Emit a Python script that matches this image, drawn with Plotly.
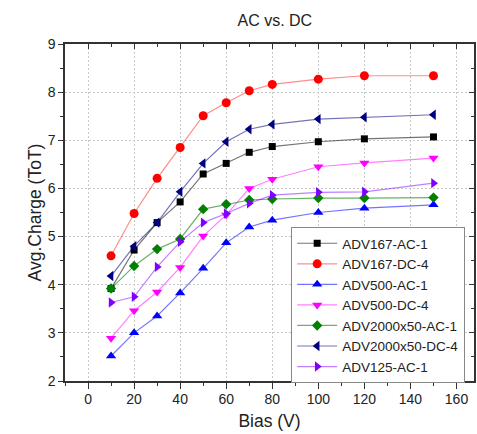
import plotly.graph_objects as go

bias = [10, 20, 30, 40, 50, 60, 70, 80, 100, 120, 150]

names = ["ADV167-AC-1", "ADV167-DC-4", "ADV500-AC-1", "ADV500-DC-4",
         "ADV2000x50-AC-1", "ADV2000x50-DC-4", "ADV125-AC-1"]

adv167_ac1 = [3.92, 4.72, 5.29, 5.72, 6.30, 6.52, 6.75, 6.87, 6.97, 7.03, 7.07]
adv167_dc4 = [4.60, 5.48, 6.21, 6.85, 7.51, 7.78, 8.03, 8.16, 8.27, 8.34, 8.34]
adv500_ac1 = [2.52, 3.00, 3.35, 3.83, 4.34, 4.87, 5.20, 5.34, 5.50, 5.59, 5.66]
adv500_dc4 = [2.89, 3.46, 3.85, 4.36, 5.01, 5.45, 6.00, 6.19, 6.45, 6.53, 6.63]
adv2000_ac1 = [3.92, 4.39, 4.74, 4.95, 5.57, 5.67, 5.76, 5.78, 5.80, 5.80, 5.81]
adv2000_dc4 = [4.18, 4.80, 5.29, 5.93, 6.52, 6.97, 7.23, 7.33, 7.44, 7.48, 7.53]
adv125_ac1 = [3.63, 3.75, 4.37, 4.89, 5.29, 5.48, 5.69, 5.86, 5.92, 5.93, 6.11]

series = [adv167_ac1, adv167_dc4, adv500_ac1, adv500_dc4,
          adv2000_ac1, adv2000_dc4, adv125_ac1]

colors = ["#000000", "#ff0000", "#0000ff", "#ff00ff", "#008000", "#000080", "#8000ff"]
line_colors = ["rgba(0,0,0,0.55)", "rgba(255,0,0,0.45)", "rgba(0,0,255,0.55)",
               "rgba(255,0,255,0.5)", "rgba(0,128,0,0.6)", "rgba(0,0,128,0.55)",
               "rgba(128,0,255,0.5)"]
symbols = ["square", "circle", "triangle-up", "triangle-down", "diamond",
           "triangle-left", "triangle-right"]
sizes = [7, 9, 9, 9, 8, 9, 9]

FONT = "Arial, Liberation Sans, sans-serif"
TXT = "#222222"

fig = go.Figure()
for n, ys, c, lc, s, sz in zip(names, series, colors, line_colors, symbols, sizes):
    fig.add_trace(go.Scatter(
        x=bias, y=ys, name=n, mode="lines+markers",
        line=dict(color=lc, width=1.2),
        marker=dict(symbol=s, size=sz, color=c, line=dict(width=0)),
    ))

axis_col = "#333333"
grid_col = "#c8c8c8"
XR = [-10, 167.6]
YR = [2, 9]

fig.update_layout(
    width=477, height=434, autosize=False,
    margin=dict(l=65, r=1, t=44, b=53),
    paper_bgcolor="white", plot_bgcolor="white",
    font=dict(family=FONT, color=TXT),
    title=dict(text="AC vs. DC", x=0.513, xref="paper", xanchor="center",
               y=0.954, yref="container", yanchor="middle",
               font=dict(size=16, family=FONT, color=TXT)),
    xaxis=dict(
        range=XR, tickmode="array", tickvals=list(range(0, 161, 20)),
        ticks="outside", ticklen=6, tickwidth=1, tickcolor=axis_col,
        minor=dict(tickvals=list(range(-10, 161, 20)), ticks="outside", ticklen=3,
                   tickcolor=axis_col, showgrid=False),
        showline=True, linecolor=axis_col, linewidth=1.5, mirror=True,
        showgrid=True, gridcolor=grid_col, griddash="2px,2px", gridwidth=1,
        zeroline=False, tickfont=dict(size=14, family=FONT, color=TXT),
        ticklabelstandoff=-2,
        title=dict(text="Bias (V)", font=dict(size=17.5, family=FONT, color=TXT),
                   standoff=9),
    ),
    yaxis=dict(
        range=YR, tickmode="array", tickvals=list(range(2, 10)),
        ticks="outside", ticklen=5, tickwidth=1, tickcolor=axis_col,
        minor=dict(tickvals=[2.5 + i for i in range(7)], ticks="outside", ticklen=3,
                   tickcolor=axis_col, showgrid=False),
        showline=True, linecolor=axis_col, linewidth=1.5, mirror=True,
        showgrid=True, gridcolor=grid_col, griddash="2px,2px", gridwidth=1,
        zeroline=False, tickfont=dict(size=14, family=FONT, color=TXT),
        title=dict(text="Avg.Charge (ToT)", font=dict(size=17.5, family=FONT, color=TXT),
                   standoff=2),
    ),
    xaxis2=dict(
        overlaying="x", side="top", range=XR,
        tickmode="array", tickvals=list(range(0, 161, 20)),
        ticks="inside", ticklen=5, tickcolor=axis_col, showticklabels=False,
        minor=dict(tickvals=list(range(-10, 161, 20)), ticks="inside", ticklen=3,
                   tickcolor=axis_col),
        showgrid=False, zeroline=False, showline=False,
    ),
    yaxis2=dict(
        overlaying="y", side="right", range=YR,
        tickmode="array", tickvals=list(range(2, 10)),
        ticks="inside", ticklen=5, tickcolor=axis_col, showticklabels=False,
        minor=dict(tickvals=[2.5 + i for i in range(7)], ticks="inside", ticklen=3,
                   tickcolor=axis_col),
        showgrid=False, zeroline=False, showline=False,
    ),
    legend=dict(
        x=0.553, y=0.457, xanchor="left", yanchor="top",
        bgcolor="white", bordercolor="#888888", borderwidth=1,
        font=dict(size=13.5, family=FONT, color=TXT),
        tracegroupgap=0, itemwidth=40,
    ),
    showlegend=True,
)

# invisible helper trace so the mirrored tick axes are drawn
fig.add_trace(go.Scatter(x=[bias[0]], y=[adv167_ac1[0]], xaxis="x2", yaxis="y2",
                         mode="markers", marker=dict(opacity=0), showlegend=False,
                         hoverinfo="skip"))

fig.write_html(
    "out.html",
    config={"displayModeBar": False, "responsive": False},
    post_script=("document.documentElement.style.margin='0';"
                 "document.documentElement.style.overflow='hidden';"
                 "document.body.style.margin='0';"
                 "document.body.style.overflow='hidden';"),
)
